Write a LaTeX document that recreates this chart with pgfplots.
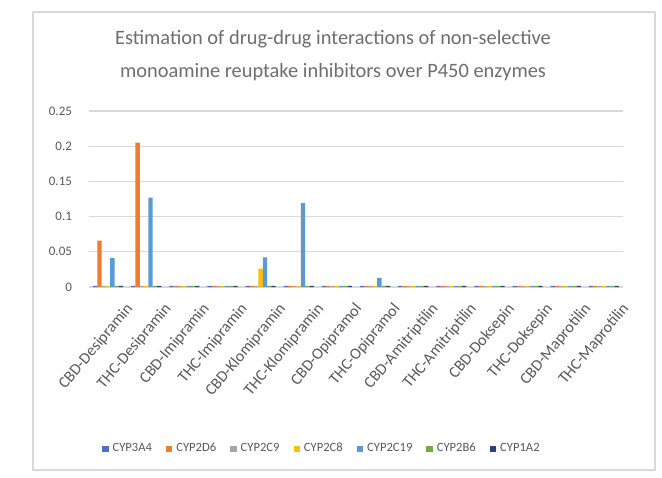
\documentclass[border=0pt]{standalone}
\usepackage{pgfplots}
\pgfplotsset{compat=1.18}
\usepackage{pgfplotstable}
\usepackage{fontspec}
\setmainfont{Carlito}

\definecolor{cA}{HTML}{4472C4}
\definecolor{cB}{HTML}{ED7D31}
\definecolor{cC}{HTML}{A5A5A5}
\definecolor{cD}{HTML}{FFC000}
\definecolor{cE}{HTML}{5B9BD5}
\definecolor{cF}{HTML}{70AD47}
\definecolor{cG}{HTML}{264478}
\definecolor{txt}{HTML}{595959}
\definecolor{ttl}{HTML}{6E6E6E}
\definecolor{gridc}{HTML}{D9D9D9}

% interaction estimates per combination (tiny entries show as the baseline stubs)
\pgfplotstableread{
x  A3A4   D2D6   C2C9   C2C8   C2C19  B2B6   A1A2
0  0.0015 0.066  0.0015 0.0015 0.041  0.0015 0.0015
1  0.0015 0.205  0.0015 0.0015 0.127  0.0015 0.0015
2  0.0015 0.0015 0.0015 0.0015 0.0015 0.0015 0.0015
3  0.0015 0.0015 0.0015 0.0015 0.0015 0.0015 0.0015
4  0.0015 0.0015 0.0015 0.026  0.042  0.0015 0.0015
5  0.0015 0.0015 0.0015 0.0015 0.119  0.0015 0.0015
6  0.0015 0.0015 0.0015 0.0015 0.0015 0.0015 0.0015
7  0.0015 0.0015 0.0015 0.0015 0.013  0.0015 0.0015
8  0.0015 0.0015 0.0015 0.0015 0.0015 0.0015 0.0015
9  0.0015 0.0015 0.0015 0.0015 0.0015 0.0015 0.0015
10 0.0015 0.0015 0.0015 0.0015 0.0015 0.0015 0.0015
11 0.0015 0.0015 0.0015 0.0015 0.0015 0.0015 0.0015
12 0.0015 0.0015 0.0015 0.0015 0.0015 0.0015 0.0015
13 0.0015 0.0015 0.0015 0.0015 0.0015 0.0015 0.0015
}\ddi

\begin{document}
\begin{tikzpicture}[x=1pt,y=1pt]
\path[use as bounding box, fill=white] (0,0) rectangle (331,238.5);
\node[anchor=base, font=\fontsize{8}{9}\selectfont] at (300,242) {(Figure 7)};
\draw[gray!30, line width=0.6pt] (16.5,3.5) rectangle (327.5,232.5);
\node[text=ttl, align=center, font=\fontsize{10.2}{16.5}\selectfont] at (166.5,210.5)
  {Estimation of drug-drug interactions of non-selective\\monoamine reuptake inhibitors over P450 enzymes};

\begin{axis}[
  at={(44.5pt,95pt)}, anchor=south west,
  scale only axis, width=267pt, height=88pt,
  ybar=0pt, bar width=2.15pt,
  xmin=-0.5, xmax=13.5, ymin=0, ymax=0.25,
  xtick=data,
  xticklabels={CBD-Desipramin,THC-Desipramin,CBD-Imipramin,THC-Imipramin,CBD-Klomipramin,THC-Klomipramin,CBD-Opipramol,THC-Opipramol,CBD-Amitriptilin,THC-Amitriptilin,CBD-Doksepin,THC-Doksepin,CBD-Maprotilin,THC-Maprotilin},
  xticklabel style={rotate=50, anchor=north east, text=txt, font=\fontsize{8}{9}\selectfont, inner sep=0pt, yshift=-11pt},
  ytick={0,0.05,0.1,0.15,0.2,0.25},
  yticklabels={0,0.05,0.1,0.15,0.2,0.25},
  yticklabel style={text=txt, font=\fontsize{6.5}{7}\selectfont, xshift=-5pt},
  major tick length=0pt,
  axis line style={draw=none},
  ymajorgrids, grid style={gridc, line width=0.6pt},
  legend style={at={(0.438,-0.92)}, anchor=center, draw=none, fill=none,
    legend columns=-1, font=\fontsize{6.3}{7}\selectfont, text=txt,
    /tikz/every even column/.append style={column sep=5pt}},
  legend image code/.code={\fill[#1] (0pt,-1.6pt) rectangle (3.2pt,1.6pt);},
  enlarge x limits=false,
]
\addplot[fill=cA, draw=none] table[x=x, y=A3A4] {\ddi};
\addplot[fill=cB, draw=none] table[x=x, y=D2D6] {\ddi};
\addplot[fill=cC, draw=none] table[x=x, y=C2C9] {\ddi};
\addplot[fill=cD, draw=none] table[x=x, y=C2C8] {\ddi};
\addplot[fill=cE, draw=none] table[x=x, y=C2C19] {\ddi};
\addplot[fill=cF, draw=none] table[x=x, y=B2B6] {\ddi};
\addplot[fill=cG, draw=none] table[x=x, y=A1A2] {\ddi};
\legend{CYP3A4,CYP2D6,CYP2C9,CYP2C8,CYP2C19,CYP2B6,CYP1A2}
\end{axis}
\end{tikzpicture}
\end{document}
